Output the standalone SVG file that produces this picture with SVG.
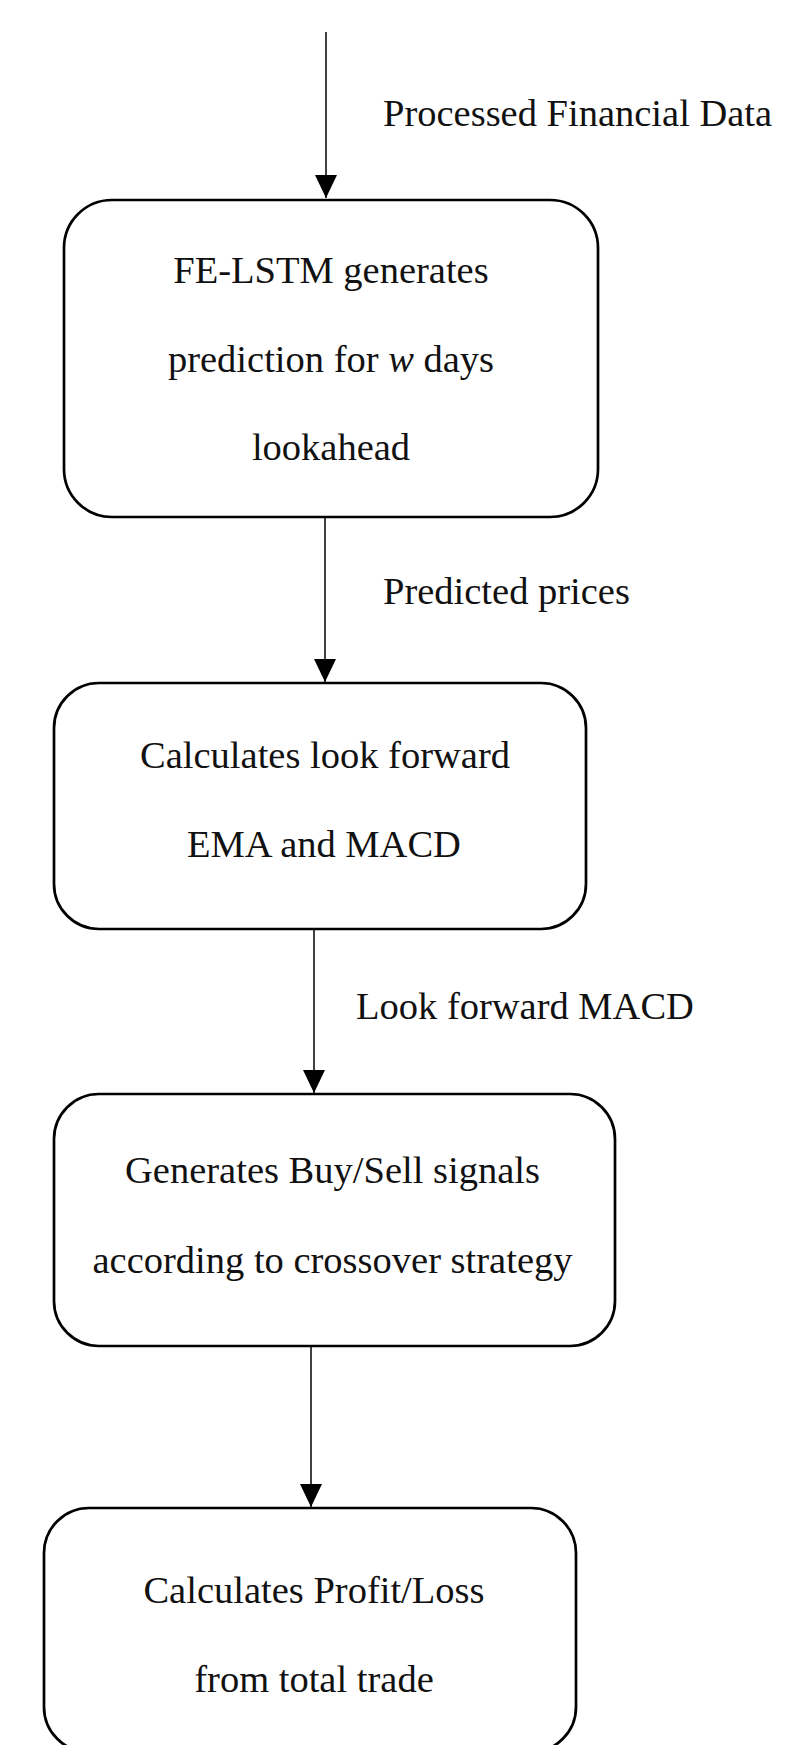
<svg xmlns="http://www.w3.org/2000/svg" width="786" height="1745" viewBox="0 0 786 1745">
<style>
.box{fill:#fff;stroke:#000;stroke-width:2.7}
.conn{stroke:#000;stroke-width:1.5;fill:none}
text{font-family:"Liberation Serif","Times New Roman",serif;font-size:38.5px;fill:#111}
.c{text-anchor:middle}
</style>
<defs>
<marker id="ah" viewBox="0 0 23 22" refX="23" refY="11" markerWidth="23" markerHeight="22" markerUnits="userSpaceOnUse" orient="auto">
<path d="M0,0 L23,11 L0,22 Z" fill="#000"/>
</marker>
</defs>
<rect width="786" height="1745" fill="#fff"/>
<g id="connectors">
<line class="conn" x1="326" y1="32" x2="326" y2="198" marker-end="url(#ah)"/>
<line class="conn" x1="325" y1="518" x2="325" y2="682" marker-end="url(#ah)"/>
<line class="conn" x1="314" y1="930" x2="314" y2="1093" marker-end="url(#ah)"/>
<line class="conn" x1="311" y1="1347" x2="311" y2="1507" marker-end="url(#ah)"/>
<text x="383" y="126">Processed Financial Data</text>
<text x="383" y="604">Predicted prices</text>
<text x="356" y="1019">Look forward MACD</text>
</g>
<g id="node1">
<rect class="box" x="64" y="200" width="534" height="317" rx="48" ry="48"/>
<text class="c" x="331" y="283">FE-LSTM generates</text>
<text class="c" x="331" y="372">prediction for <tspan font-style="italic">w</tspan> days</text>
<text class="c" x="331" y="460">lookahead</text>
</g>
<g id="node2">
<rect class="box" x="54" y="683" width="532" height="246" rx="45" ry="45"/>
<text class="c" x="325" y="768">Calculates look forward</text>
<text class="c" x="324" y="857">EMA and MACD</text>
</g>
<g id="node3">
<rect class="box" x="54" y="1094" width="561" height="252" rx="45" ry="45"/>
<text class="c" x="332.5" y="1183">Generates Buy/Sell signals</text>
<text class="c" x="332.5" y="1273">according to crossover strategy</text>
</g>
<g id="node4">
<rect class="box" x="44" y="1508" width="532" height="244" rx="45" ry="45"/>
<text class="c" x="314" y="1603">Calculates Profit/Loss</text>
<text class="c" x="314" y="1692">from total trade</text>
</g>
</svg>
